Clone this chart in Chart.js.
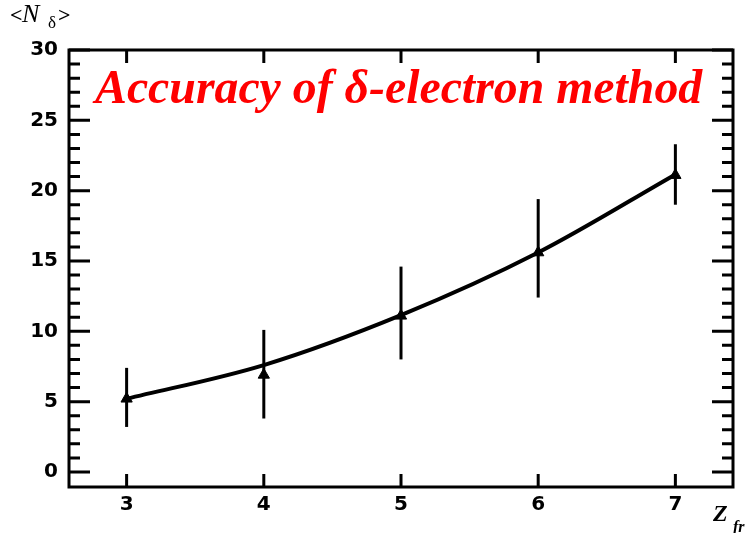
<!DOCTYPE html>
<html>
<head>
<meta charset="utf-8">
<script src="https://cdn.jsdelivr.net/npm/chart.js@4.4.1/dist/chart.umd.min.js"></script>
<style>
  html, body { margin: 0; padding: 0; background: #fff; }
  #wrap { width: 749px; height: 533px; }
</style>
</head>
<body>
<div id="wrap"><canvas id="deltaChart" width="749" height="533"></canvas></div>
<script>
// Fragment charge and mean number of delta electrons
const zValues = [3, 4, 5, 6, 7];
const nMeasured = [5.2, 6.9, 11.1, 15.6, 21.1];
const errHigh = [7.4, 10.1, 14.6, 19.4, 23.3];
const errLow = [3.2, 3.8, 8.0, 12.4, 19.0];
// smooth fit curve through the measurements
const fitValues = [5.2, 7.6, 11.15, 15.6, 21.15];

const xTicks = [3, 4, 5, 6, 7];
const yTicks = [0, 5, 10, 15, 20, 25, 30];

const titleText = 'Accuracy of \u03b4-electron method';

// frame, inward ticks, error bars and axis titles
const framePlugin = {
  id: 'framePlugin',
  beforeDatasetsDraw(chart) {
    const { ctx, scales: { x, y } } = chart;
    ctx.save();
    ctx.strokeStyle = '#000';
    ctx.lineWidth = 3;
    zValues.forEach((z, i) => {
      const px = x.getPixelForValue(z);
      ctx.beginPath();
      ctx.moveTo(px, y.getPixelForValue(errLow[i]));
      ctx.lineTo(px, y.getPixelForValue(errHigh[i]));
      ctx.stroke();
    });
    ctx.restore();
  },
  afterDraw(chart) {
    const { ctx, chartArea: a, scales: { x, y } } = chart;
    ctx.save();
    ctx.strokeStyle = '#000';
    ctx.lineWidth = 3;
    ctx.lineCap = 'butt';
    ctx.strokeRect(a.left, a.top, a.right - a.left, a.bottom - a.top);

    // y ticks, every unit, long ones on the labelled values
    for (let v = 0; v <= 30; v++) {
      const py = y.getPixelForValue(v);
      const len = yTicks.includes(v) ? 21 : 11;
      ctx.beginPath();
      ctx.moveTo(a.left, py); ctx.lineTo(a.left + len, py);
      ctx.moveTo(a.right, py); ctx.lineTo(a.right - len, py);
      ctx.stroke();
    }
    xTicks.forEach(v => {
      const px = x.getPixelForValue(v);
      ctx.beginPath();
      ctx.moveTo(px, a.bottom); ctx.lineTo(px, a.bottom - 13);
      ctx.moveTo(px, a.top); ctx.lineTo(px, a.top + 13);
      ctx.stroke();
    });

    // title, fitted to its span across the plot
    ctx.fillStyle = '#ff0000';
    ctx.textBaseline = 'alphabetic';
    ctx.font = 'italic bold 100px "Liberation Serif"';
    const w100 = ctx.measureText(titleText).width;
    const size = 100 * 607 / w100;
    ctx.font = 'italic bold ' + size.toFixed(1) + 'px "Liberation Serif"';
    ctx.fillText(titleText, 95, 103);

    // <N_delta>
    ctx.fillStyle = '#000';
    ctx.font = 'bold 22px "Liberation Serif"';
    ctx.fillText('<', 10, 22);
    ctx.font = 'italic 26px "Liberation Serif"';
    ctx.fillText('N', 22, 22);
    ctx.font = '17px "Liberation Serif"';
    ctx.fillText('\u03b4', 48, 28);
    ctx.font = 'bold 22px "Liberation Serif"';
    ctx.fillText('>', 58, 22);

    // Z_fr
    ctx.font = 'italic bold 24px "Liberation Serif"';
    ctx.fillText('Z', 713, 521);
    ctx.font = 'italic bold 16px "Liberation Serif"';
    ctx.fillText('fr', 733, 532);
    ctx.restore();
  }
};

new Chart(document.getElementById('deltaChart'), {
  type: 'line',
  data: {
    datasets: [
      {
        label: 'fit',
        data: zValues.map((z, i) => ({ x: z, y: fitValues[i] })),
        borderColor: '#000',
        borderWidth: 4,
        pointRadius: 0,
        cubicInterpolationMode: 'monotone',
        fill: false
      },
      {
        label: 'measured',
        data: zValues.map((z, i) => ({ x: z, y: nMeasured[i] })),
        showLine: false,
        pointStyle: 'triangle',
        pointRadius: 6.5,
        pointBackgroundColor: '#000',
        pointBorderColor: '#000',
        pointBorderWidth: 1
      }
    ]
  },
  options: {
    responsive: false,
    animation: false,
    layout: { padding: { left: 0, top: 50, right: 16, bottom: 0 } },
    plugins: {
      legend: { display: false },
      tooltip: { enabled: false }
    },
    scales: {
      x: {
        type: 'linear',
        min: 2.58,
        max: 7.42,
        afterBuildTicks: s => { s.ticks = xTicks.map(v => ({ value: v })); },
        afterFit: s => { s.height = 46; },
        grid: { display: false, drawTicks: false },
        border: { display: false },
        ticks: {
          color: '#000',
          padding: 6,
          maxRotation: 0,
          font: { family: '"DejaVu Sans"', size: 20, weight: 'bold' }
        }
      },
      y: {
        type: 'linear',
        min: -1.07,
        max: 30,
        afterBuildTicks: s => { s.ticks = yTicks.map(v => ({ value: v })); },
        afterFit: s => { s.width = 69; },
        grid: { display: false, drawTicks: false },
        border: { display: false },
        ticks: {
          color: '#000',
          padding: 11,
          font: { family: '"DejaVu Sans"', size: 20, weight: 'bold' }
        }
      }
    }
  },
  plugins: [framePlugin]
});
</script>
</body>
</html>
